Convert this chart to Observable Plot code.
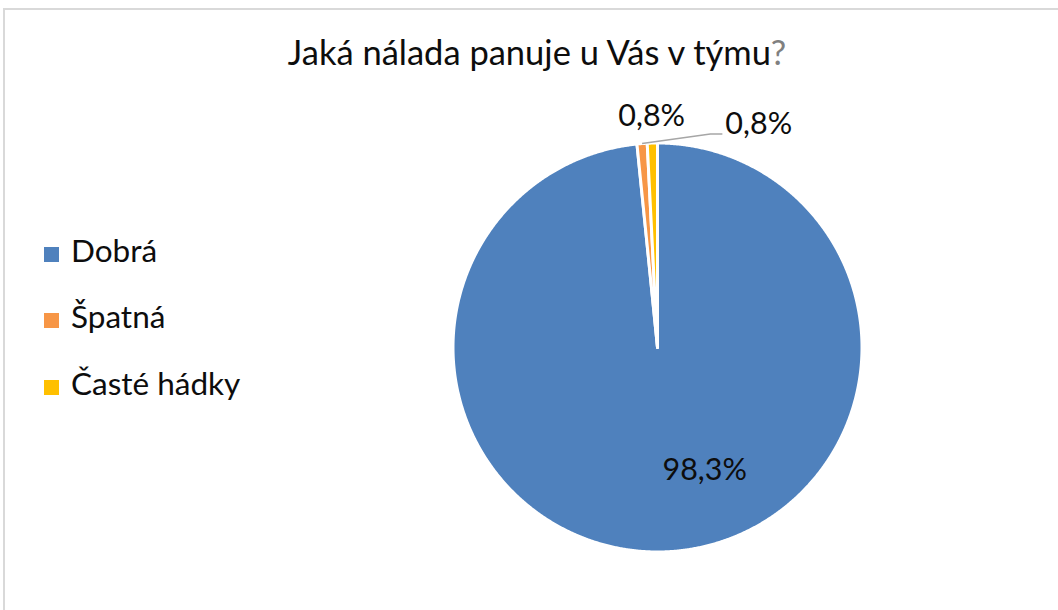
<!DOCTYPE html>
<html>
<head>
<meta charset="utf-8">
<script src="https://cdn.jsdelivr.net/npm/d3@7"></script>
<script src="https://cdn.jsdelivr.net/npm/@observablehq/plot@0.6"></script>
<style>
  body { margin: 0; background: #fff; font-family: Lato, "Open Sans", sans-serif; }
  #wrap { position: relative; width: 1058px; height: 610px; overflow: hidden; background: #fff; }
  #frame { position: absolute; left: 3px; top: 8px; width: 1200px; height: 800px;
           border-top: 2px solid #d9d9d9; border-left: 2px solid #d9d9d9; }
  #title { position: absolute; left: 0; width: 1074px; text-align: center; white-space: nowrap;
           color: #0d0d0d; line-height: 1; }
  #title .q { color: #808080; }
  .lg-sq { position: absolute; width: 15px; height: 15px; }
  .lg-tx { position: absolute; line-height: 1; color: #0d0d0d; white-space: nowrap; }
  #chart { position: absolute; left: 0; top: 0; }
</style>
</head>
<body>
<div id="wrap">
  <div id="frame"></div>
  <div id="chart"></div>
  <div id="title"></div>
  <div id="legend"></div>
</div>
<script>
// ---- data ----
const categories = ["Dobrá", "Špatná", "Časté hádky"];
const values = [98.3, 0.8, 0.8];
const colors = ["#4F81BD", "#F79646", "#FFC000"];
const titleText = "Jaká nálada panuje u Vás v týmu";
const titleMark = "?";

// ---- layout ----
const W = 1058, H = 610;
const cx = 657, cy = 347, R = 204.5;
const titleSize = 34.5, legendSize = 31.5, labelSize = 30.5;

const fmt = v => v.toFixed(1).replace(".", ",") + "%";
const rows = categories.map((name, i) => ({name, value: values[i]}));
const arcs = d3.pie().sort(null).value(d => d.value)(rows);
const polar = (t, r) => ({x: r * Math.sin(t), y: -r * Math.cos(t)});
const mid = a => (a.startAngle + a.endAngle) / 2;

// slice polygons
const pts = [];
arcs.forEach(a => {
  const name = a.data.name;
  const n = Math.max(4, Math.ceil((a.endAngle - a.startAngle) / 0.005));
  pts.push({name, x: 0, y: 0});
  for (let k = 0; k <= n; k++) {
    const t = a.startAngle + (a.endAngle - a.startAngle) * k / n;
    pts.push({name, ...polar(t, R)});
  }
  pts.push({name, x: 0, y: 0});
});

// labels
const aBig = arcs[0], aBad = arcs[1], aFight = arcs[2];
const insideLabel = [{...polar(mid(aBig), 0.6 * R), text: fmt(aBig.data.value)}];
const topLabel = [{...polar(mid(aFight), 231), text: fmt(aFight.data.value)}];
const p0 = polar(mid(aBad), R);
const p1r = polar(mid(aBad), 214);
const p1 = {x: p1r.x + 69, y: p1r.y};
const p2 = {x: p1.x + 12, y: p1.y};
const leader = [p0, p1, p2];
const leaderLabel = [{x: p2.x + 3, y: p2.y - 10.3, text: fmt(aBad.data.value)}];

const plot = Plot.plot({
  width: W, height: H,
  marginTop: 0, marginRight: 0, marginBottom: 0, marginLeft: 0,
  x: {domain: [-cx, W - cx], axis: null},
  y: {domain: [-cy, H - cy], reverse: true, axis: null},
  color: {domain: categories, range: colors},
  style: {fontFamily: "Lato, 'Open Sans', sans-serif", background: "transparent", overflow: "visible"},
  marks: [
    Plot.line(pts, {x: "x", y: "y", z: "name", fill: "name", stroke: "white",
                    strokeWidth: 3, strokeLinejoin: "round", curve: "linear"}),
    Plot.line(leader, {x: "x", y: "y", stroke: "#a6a6a6", strokeWidth: 1.5, strokeLinecap: "butt"}),
    Plot.text(insideLabel, {x: "x", y: "y", text: "text", dx: 41, fontSize: labelSize, fill: "#0d0d0d"}),
    Plot.text(topLabel, {x: "x", y: "y", text: "text", fontSize: labelSize, fill: "#0d0d0d"}),
    Plot.text(leaderLabel, {x: "x", y: "y", text: "text", textAnchor: "start", fontSize: labelSize, fill: "#0d0d0d"})
  ]
});
document.getElementById("chart").appendChild(plot);

// title
const t = document.getElementById("title");
t.style.fontSize = titleSize + "px";
t.style.top = (65.5 - 0.887 * titleSize) + "px";
t.textContent = titleText;
const q = document.createElement("span");
q.className = "q"; q.textContent = titleMark;
t.appendChild(q);

// legend
const lg = document.getElementById("legend");
categories.forEach((name, i) => {
  const base = 263 + i * 66.3;
  const sq = document.createElement("div");
  sq.className = "lg-sq";
  sq.style.left = "44px";
  sq.style.top = (base - 16) + "px";
  sq.style.background = colors[i];
  lg.appendChild(sq);
  const tx = document.createElement("div");
  tx.className = "lg-tx";
  tx.style.left = "71px";
  tx.style.fontSize = legendSize + "px";
  tx.style.top = (base - 0.887 * legendSize) + "px";
  tx.textContent = name;
  lg.appendChild(tx);
});
</script>
</body>
</html>
